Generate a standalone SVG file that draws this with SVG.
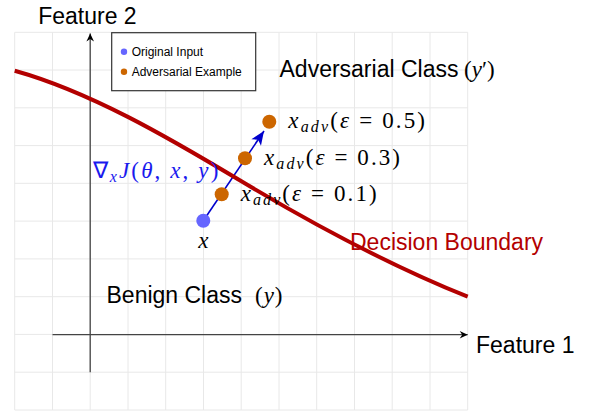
<svg xmlns="http://www.w3.org/2000/svg" width="591" height="411" viewBox="0 0 591 411">
<style>
.grid{stroke:#e8e8e8;stroke-width:1;fill:none}
.axis{stroke:#444;stroke-width:1.3;fill:none}
.sans{font-family:"Liberation Sans",Arial,sans-serif;fill:#000}
.big{font-size:23px}
.math{font-family:"Liberation Serif","Times New Roman",serif;font-size:23px;fill:#000}
.it{font-style:italic}
.sub{font-size:16px;font-style:italic}
.orange{fill:#cc6600}
.bluept{fill:#6666ff}
</style>
<defs>
<marker id="axhead" markerUnits="userSpaceOnUse" viewBox="-9 -5 10 10" refX="0" refY="0" markerWidth="10" markerHeight="10" orient="auto">
<path d="M0,0 L-8,-3.8 L-5.5,0 L-8,3.8 Z" fill="#000"/>
</marker>
<marker id="bluehead" markerUnits="userSpaceOnUse" viewBox="-16 -7 17 14" refX="0" refY="0" markerWidth="17" markerHeight="14" orient="auto">
<path d="M0,0 L-14,-5.8 L-10.5,0 L-14,5.8 Z" fill="#0000cc"/>
</marker>
</defs>
<rect width="591" height="411" fill="#fff"/>
<g id="grid" class="grid">
<path d="M14.7,32.3V410M52.5,32.3V410M90.2,32.3V410M128,32.3V410M165.7,32.3V410M203.5,32.3V410M241.2,32.3V410M279,32.3V410M316.7,32.3V410M354.5,32.3V410M392.2,32.3V410M430,32.3V410M467.7,32.3V410"/>
<path d="M14.7,32.3H467.7M14.7,70H467.7M14.7,107.8H467.7M14.7,145.6H467.7M14.7,183.3H467.7M14.7,221.1H467.7M14.7,258.9H467.7M14.7,296.7H467.7M14.7,334.4H467.7M14.7,372.2H467.7M14.7,410H467.7"/>
</g>
<g id="connectors">
<path id="x-axis" class="axis" d="M52.5,334.7H467.7" marker-end="url(#axhead)"/>
<path id="y-axis" class="axis" d="M90.2,372.2V33.5" marker-end="url(#axhead)"/>
<path id="gradient-arrow" d="M203.3,220.7L264,131" stroke="#0000cc" stroke-width="1.6" fill="none" marker-end="url(#bluehead)"/>
</g>
<g id="decision-boundary">
<path d="M14.7,70.7 C89.7,91.7 166,136 241,181 C316,226 392.7,266.7 467.7,296.7" stroke="#b30000" stroke-width="4" fill="none"/>
<text class="sans big" x="350" y="250" style="fill:#b30000">Decision Boundary</text>
</g>
<g id="axis-labels">
<text class="sans big" x="38.2" y="23.5">Feature 2</text>
<text class="sans big" x="476" y="352.7">Feature 1</text>
</g>
<g id="legend">
<rect x="111.7" y="32.7" width="144" height="58" fill="#fff" stroke="#333" stroke-width="1.2"/>
<circle cx="124" cy="51.7" r="3.2" class="bluept"/>
<text class="sans" x="131.7" y="55.7" font-size="12">Original Input</text>
<circle cx="124" cy="71.7" r="3.2" class="orange"/>
<text class="sans" x="131.7" y="75.7" font-size="12">Adversarial Example</text>
</g>
<g id="adversarial-class">
<text class="sans big" x="279.5" y="76.7">Adversarial Class</text>
<text class="math" x="464" y="76.7" font-size="24">(<tspan class="it">y</tspan>′)</text>
</g>
<g id="benign-class">
<text class="sans big" x="106.5" y="303.3">Benign Class</text>
<text class="math" x="255" y="303.3" textLength="27.5" lengthAdjust="spacing">(<tspan class="it">y</tspan>)</text>
</g>
<g id="original-input">
<circle cx="203.3" cy="220.7" r="7" class="bluept"/>
<text class="math it" x="203.3" y="248" text-anchor="middle">x</text>
</g>
<g id="adv-01">
<circle cx="221.7" cy="194.3" r="7" class="orange"/>
<text class="math" x="240.7" y="200.5" textLength="136" lengthAdjust="spacing"><tspan class="it">x</tspan><tspan class="sub" dy="4">adv</tspan><tspan dy="-4">(</tspan><tspan class="it">ε</tspan> = 0.1)</text>
</g>
<g id="adv-03">
<circle cx="245" cy="158.3" r="7" class="orange"/>
<text class="math" x="264" y="164.5" textLength="136" lengthAdjust="spacing"><tspan class="it">x</tspan><tspan class="sub" dy="4">adv</tspan><tspan dy="-4">(</tspan><tspan class="it">ε</tspan> = 0.3)</text>
</g>
<g id="adv-05">
<circle cx="269.3" cy="121.7" r="7" class="orange"/>
<text class="math" x="288.3" y="128.3" textLength="136.7" lengthAdjust="spacing"><tspan class="it">x</tspan><tspan class="sub" dy="4">adv</tspan><tspan dy="-4">(</tspan><tspan class="it">ε</tspan> = 0.5)</text>
</g>
<g id="gradient-label">
<text class="math" x="92.7" y="178.3" textLength="125.6" lengthAdjust="spacing" style="fill:#1a1aee">∇<tspan class="sub" dy="4">x</tspan><tspan class="it" dy="-4">J</tspan>(<tspan class="it">θ</tspan>, <tspan class="it">x</tspan>, <tspan class="it">y</tspan>)</text>
</g>
</svg>
